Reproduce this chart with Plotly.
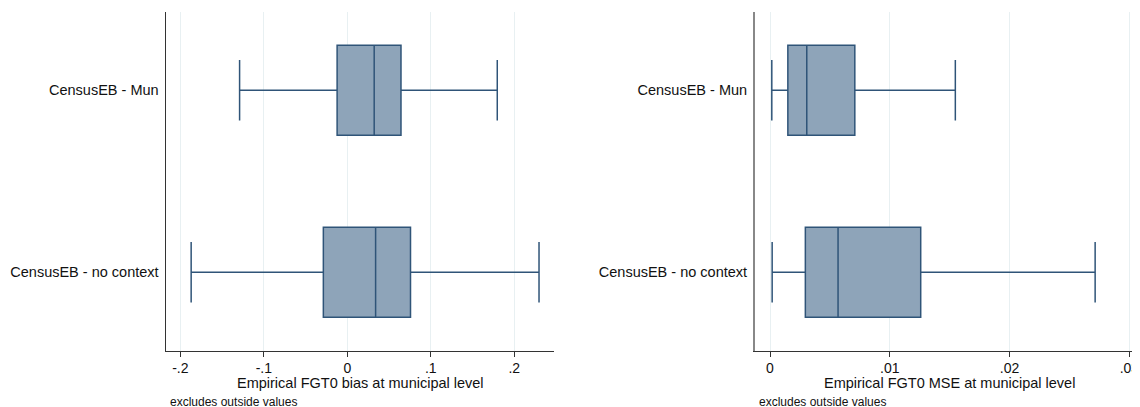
import plotly.graph_objects as go

# The page places the figure 8px from the window's top-left corner.
OFF = 8
W, H = 1140 - OFF, 407 - OFF

categories = ["CensusEB - Mun", "CensusEB - no context"]

# Bias panel (left)
bias_low = [-0.129, -0.187]
bias_q1 = [-0.0122, -0.0287]
bias_med = [0.0322, 0.0339]
bias_q3 = [0.0643, 0.0757]
bias_high = [0.1796, 0.2296]
bias_ticks = [-0.2, -0.1, 0, 0.1, 0.2]
bias_ticklabels = ["-.2", "-.1", "0", ".1", ".2"]

# MSE panel (right)
mse_low = [0.00015, 0.00018]
mse_q1 = [0.00149, 0.00295]
mse_med = [0.00307, 0.00568]
mse_q3 = [0.00708, 0.01258]
mse_high = [0.01547, 0.02714]
mse_ticks = [0, 0.01, 0.02, 0.03]
mse_ticklabels = ["0", ".01", ".02", ".03"]

FILL = "#8ea4b9"
LINE = "#2f5478"
FONT = "Liberation Sans, Arial, sans-serif"

fig = go.Figure()
fig.add_trace(go.Box(
    y=categories, q1=bias_q1, median=bias_med, q3=bias_q3,
    lowerfence=bias_low, upperfence=bias_high, orientation="h",
    fillcolor=FILL, line=dict(color=LINE, width=1.5), width=0.495,
    whiskerwidth=0.67, boxpoints=False, xaxis="x", yaxis="y", showlegend=False,
    hoverinfo="skip"))
fig.add_trace(go.Box(
    y=categories, q1=mse_q1, median=mse_med, q3=mse_q3,
    lowerfence=mse_low, upperfence=mse_high, orientation="h",
    fillcolor=FILL, line=dict(color=LINE, width=1.5), width=0.495,
    whiskerwidth=0.67, boxpoints=False, xaxis="x2", yaxis="y2", showlegend=False,
    hoverinfo="skip"))

# screen-pixel helpers (screen coords of the reference picture)
def px(v):
    return (v - OFF) / W

def py(v):
    return 1 - (v - OFF) / H

l0, l1 = 165.5, 554
r0, r1 = 755, 1140
top, bot = 12, 350.5
xr_left = [(l0 - 347.3) / 835.0, (l1 - 347.3) / 835.0]
xr_right = [(r0 - 770.0) / 11980.0, (r1 - 770.0) / 11980.0]

common_x = dict(
    showgrid=True, gridcolor="#e8f0f2", gridwidth=1,
    ticks="outside", ticklen=5, tickcolor="#333333", tickwidth=1,
    showline=True, linecolor="#333333", linewidth=1, zeroline=False,
    tickfont=dict(family=FONT, size=14, color="#111111"),
    automargin=False, ticklabeloverflow="allow",
)
common_y = dict(
    domain=[py(bot), py(top)], range=[1.43, -0.43],
    showline=True, showgrid=False, zeroline=False, ticks="", ticklabelstandoff=3,
    tickfont=dict(family=FONT, size=14.5, color="#111111"), automargin=False,
)

fig.update_layout(
    width=W, height=H,
    margin=dict(l=0, r=0, t=0, b=0),
    plot_bgcolor="white", paper_bgcolor="white",
    font=dict(family=FONT, color="#111111"),
    xaxis=dict(domain=[px(l0), px(l1)], range=xr_left,
               tickvals=bias_ticks, ticktext=bias_ticklabels, anchor="y", **common_x),
    yaxis=dict(anchor="x", linecolor="#333333", linewidth=1, **common_y),
    xaxis2=dict(domain=[px(r0), min(1.0, px(r1))], range=xr_right,
                tickvals=mse_ticks, ticktext=mse_ticklabels, anchor="y2", **common_x),
    yaxis2=dict(anchor="x2", linecolor="#888888", linewidth=2, **common_y),
    showlegend=False,
)

annos = [
    dict(text="Empirical FGT0 bias at municipal level", x=360, y=383),
    dict(text="Empirical FGT0 MSE at municipal level", x=949.5, y=383),
]
for a in annos:
    fig.add_annotation(text=a["text"], x=px(a["x"]), y=py(a["y"]),
                       xref="paper", yref="paper", xanchor="center", yanchor="middle",
                       showarrow=False, font=dict(family=FONT, size=14.5, color="#111111"))
for xx in (168, 757):
    fig.add_annotation(text="excludes outside values", x=px(xx), y=py(401.5),
                       xref="paper", yref="paper", xanchor="left", yanchor="middle",
                       showarrow=False, font=dict(family=FONT, size=12, color="#111111"))

fig.write_html("out.html")
